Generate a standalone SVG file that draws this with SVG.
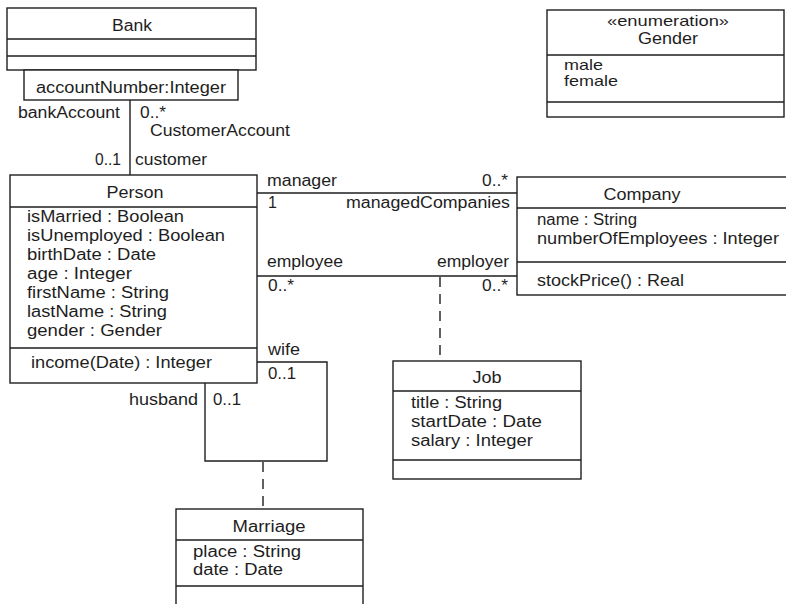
<svg xmlns="http://www.w3.org/2000/svg" width="786" height="604" viewBox="0 0 786 604">
<style>
  .box { fill: #ffffff; stroke: #1e1e1e; stroke-width: 1.4; }
  .sep { stroke: #1e1e1e; stroke-width: 1.4; fill: none; }
  .ln { stroke: #1e1e1e; stroke-width: 1.4; fill: none; }
  .dash { stroke: #1e1e1e; stroke-width: 1.4; fill: none; stroke-dasharray: 10 7; }
  text { font-family: "Liberation Sans", Arial, sans-serif; font-size: 16px; fill: #1e1e1e; }
  .sm { font-size: 15px; }
  .c { text-anchor: middle; }
  .e { text-anchor: end; }
</style>
<rect x="0" y="0" width="786" height="604" fill="#ffffff"/>

<g id="connectors">
  <line class="ln" x1="130" y1="100" x2="130" y2="175"/>
  <line class="ln" x1="257" y1="193" x2="517" y2="193"/>
  <line class="ln" x1="257" y1="276" x2="517" y2="276"/>
  <line class="dash" x1="440" y1="277" x2="440" y2="361"/>
  <polyline class="ln" points="257,362 327,362 327,461 205,461 205,383"/>
  <line class="dash" x1="263" y1="462" x2="263" y2="509"/>
</g>

<g id="labels">
  <text class="e" x="120" y="118" textLength="102" lengthAdjust="spacingAndGlyphs">bankAccount</text>
  <text x="140" y="118" textLength="26" lengthAdjust="spacingAndGlyphs">0..*</text>
  <text x="150" y="136" textLength="140" lengthAdjust="spacingAndGlyphs">CustomerAccount</text>
  <text class="e" x="121" y="165" textLength="26" lengthAdjust="spacingAndGlyphs">0..1</text>
  <text x="135" y="165" textLength="72" lengthAdjust="spacingAndGlyphs">customer</text>
  <text x="267" y="186" textLength="70" lengthAdjust="spacingAndGlyphs">manager</text>
  <text class="e" x="508" y="186" textLength="26" lengthAdjust="spacingAndGlyphs">0..*</text>
  <text x="268" y="208">1</text>
  <text class="e" x="510" y="208" textLength="164" lengthAdjust="spacingAndGlyphs">managedCompanies</text>
  <text x="267" y="267" textLength="76" lengthAdjust="spacingAndGlyphs">employee</text>
  <text class="e" x="509" y="267" textLength="72" lengthAdjust="spacingAndGlyphs">employer</text>
  <text x="268" y="291" textLength="26" lengthAdjust="spacingAndGlyphs">0..*</text>
  <text class="e" x="508" y="291" textLength="26" lengthAdjust="spacingAndGlyphs">0..*</text>
  <text x="268" y="355" textLength="32" lengthAdjust="spacingAndGlyphs">wife</text>
  <text x="268" y="379" textLength="28" lengthAdjust="spacingAndGlyphs">0..1</text>
  <text class="e" x="198" y="405" textLength="69" lengthAdjust="spacingAndGlyphs">husband</text>
  <text x="213" y="405" textLength="28" lengthAdjust="spacingAndGlyphs">0..1</text>
</g>

<g id="Bank">
  <rect class="box" x="7" y="8" width="249" height="62"/>
  <line class="sep" x1="7" y1="39" x2="256" y2="39"/>
  <line class="sep" x1="7" y1="56" x2="256" y2="56"/>
  <text class="c" x="132" y="31" textLength="40" lengthAdjust="spacingAndGlyphs">Bank</text>
</g>

<g id="BankQualifier">
  <rect class="box" x="24" y="70" width="214" height="30"/>
  <text class="c" x="131" y="93" textLength="190" lengthAdjust="spacingAndGlyphs">accountNumber:Integer</text>
</g>

<g id="Gender">
  <rect class="box" x="547" y="10" width="237" height="107"/>
  <line class="sep" x1="547" y1="55" x2="784" y2="55"/>
  <line class="sep" x1="547" y1="102" x2="784" y2="102"/>
  <text class="c sm" x="668" y="26" textLength="122" lengthAdjust="spacingAndGlyphs">«enumeration»</text>
  <text class="c" x="668" y="44" textLength="60" lengthAdjust="spacingAndGlyphs">Gender</text>
  <text class="sm" x="564" y="70" textLength="39" lengthAdjust="spacingAndGlyphs">male</text>
  <text class="sm" x="564" y="86" textLength="54" lengthAdjust="spacingAndGlyphs">female</text>
</g>

<g id="Person">
  <rect class="box" x="10" y="175" width="247" height="208"/>
  <line class="sep" x1="10" y1="207" x2="257" y2="207"/>
  <line class="sep" x1="10" y1="348" x2="257" y2="348"/>
  <text class="c" x="135" y="198" textLength="57" lengthAdjust="spacingAndGlyphs">Person</text>
  <text x="27" y="222" textLength="157" lengthAdjust="spacingAndGlyphs">isMarried : Boolean</text>
  <text x="27" y="241" textLength="198" lengthAdjust="spacingAndGlyphs">isUnemployed : Boolean</text>
  <text x="27" y="260" textLength="129" lengthAdjust="spacingAndGlyphs">birthDate : Date</text>
  <text x="27" y="279" textLength="105" lengthAdjust="spacingAndGlyphs">age : Integer</text>
  <text x="27" y="298" textLength="142" lengthAdjust="spacingAndGlyphs">firstName : String</text>
  <text x="27" y="317" textLength="140" lengthAdjust="spacingAndGlyphs">lastName : String</text>
  <text x="27" y="336" textLength="135" lengthAdjust="spacingAndGlyphs">gender : Gender</text>
  <text x="31" y="368" textLength="181" lengthAdjust="spacingAndGlyphs">income(Date) : Integer</text>
</g>

<g id="Company">
  <rect class="box" x="517" y="177" width="280" height="118"/>
  <line class="sep" x1="517" y1="208" x2="797" y2="208"/>
  <line class="sep" x1="517" y1="262" x2="797" y2="262"/>
  <text class="c" x="642" y="200" textLength="77" lengthAdjust="spacingAndGlyphs">Company</text>
  <text x="537" y="225" textLength="100" lengthAdjust="spacingAndGlyphs">name : String</text>
  <text x="537" y="244" textLength="242" lengthAdjust="spacingAndGlyphs">numberOfEmployees : Integer</text>
  <text x="537" y="286" textLength="147" lengthAdjust="spacingAndGlyphs">stockPrice() : Real</text>
</g>

<g id="Job">
  <rect class="box" x="393" y="361" width="188" height="118"/>
  <line class="sep" x1="393" y1="391" x2="581" y2="391"/>
  <line class="sep" x1="393" y1="460" x2="581" y2="460"/>
  <text class="c" x="487" y="383" textLength="29" lengthAdjust="spacingAndGlyphs">Job</text>
  <text x="411" y="408" textLength="91" lengthAdjust="spacingAndGlyphs">title : String</text>
  <text x="411" y="427" textLength="131" lengthAdjust="spacingAndGlyphs">startDate : Date</text>
  <text x="411" y="446" textLength="122" lengthAdjust="spacingAndGlyphs">salary : Integer</text>
</g>

<g id="Marriage">
  <rect class="box" x="176" y="509" width="187" height="110"/>
  <line class="sep" x1="176" y1="540" x2="363" y2="540"/>
  <line class="sep" x1="176" y1="586" x2="363" y2="586"/>
  <text class="c" x="269" y="532" textLength="73" lengthAdjust="spacingAndGlyphs">Marriage</text>
  <text x="193" y="557" textLength="108" lengthAdjust="spacingAndGlyphs">place : String</text>
  <text x="193" y="575" textLength="90" lengthAdjust="spacingAndGlyphs">date : Date</text>
</g>
</svg>
